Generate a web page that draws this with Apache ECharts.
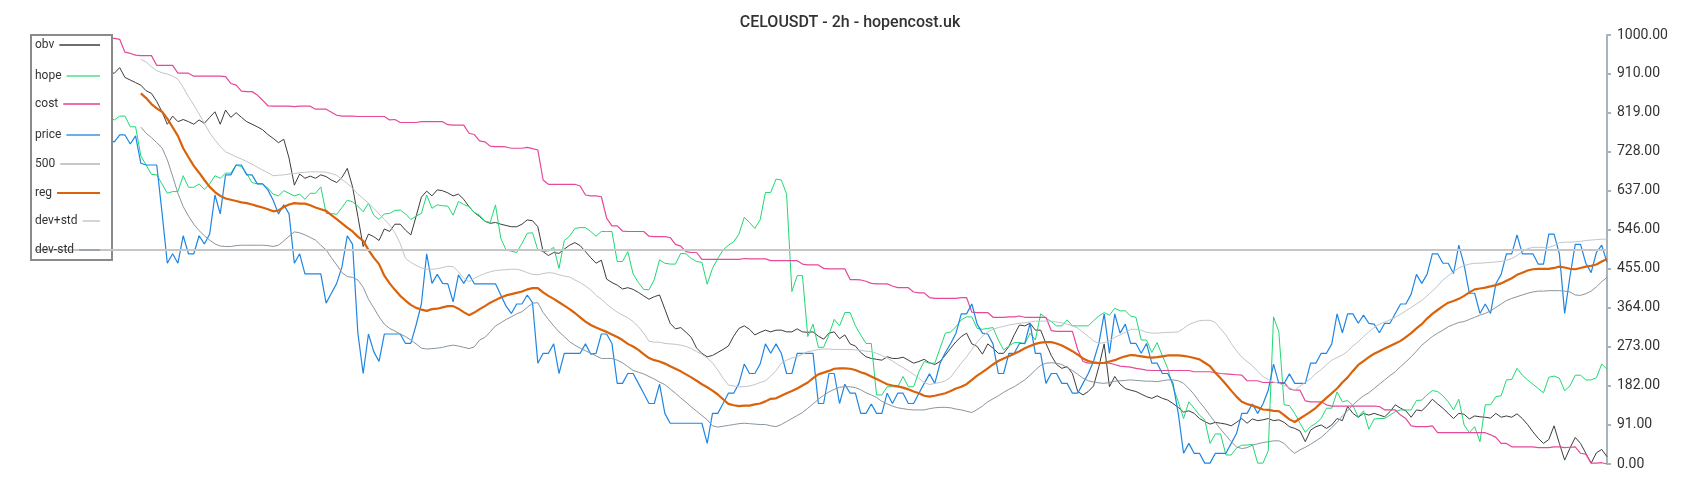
<!DOCTYPE html>
<html>
<head>
<meta charset="utf-8">
<script src="https://cdn.jsdelivr.net/npm/echarts@6/dist/echarts.min.js"></script>
<style>
html,body{margin:0;padding:0;background:#fff;}
#chart{width:1700px;height:500px;}
</style>
</head>
<body>
<div id="chart"></div>
<script>
const titleText = 'CELOUSDT - 2h - hopencost.uk';
const seriesNames = ['obv', 'hope', 'cost', 'price', '500', 'reg', 'dev+std', 'dev-std'];
const yTicks = { min: 0, max: 1000, interval: 91 };
const level500 = 500;

const price = [760,752,768,758,748,762,770,756,762,750,768,760,748,756,
755,751,767,767,746,765,701,697,697,697,586,468,490,468,532,490,
490,532,513,536,627,583,674,674,697,697,674,674,653,653,639,615,583,604,583,468,
490,443,443,443,443,375,398,421,460,532,512,305,211,303,262,239,303,303,303,303,
281,281,324,373,490,421,442,421,420,378,441,421,442,420,420,420,420,420,394,368,
351,373,373,394,376,235,258,258,280,211,258,258,258,258,280,256,258,303,303,281,
188,188,211,211,188,165,141,141,186,118,95,95,95,95,95,95,95,48,118,118,
141,165,165,188,233,211,211,233,280,258,280,258,211,211,258,258,258,258,141,141,
211,211,141,186,165,165,118,118,140,118,118,165,141,165,165,141,141,165,188,210,
188,235,260,281,305,350,350,373,326,305,303,280,211,211,258,258,281,281,328,258,
258,188,211,211,188,188,165,165,188,211,240,281,350,258,350,305,326,281,281,258,
281,235,235,211,211,188,118,25,48,25,25,2,2,25,25,25,48,71,118,118,
140,118,140,172,233,188,188,210,188,188,188,235,235,258,258,280,350,306,350,350,
328,347,328,326,306,328,328,351,373,373,396,442,421,442,490,490,468,468,444,510,
464,398,398,351,373,351,420,442,490,490,534,490,490,490,466,466,536,536,490,351,
437,512,512,468,446,493,510,470];

const obv = [885,895,905,898,915,908,922,904,915,925,910,920,914,912,
912,911,924,901,895,889,883,870,864,845,821,792,811,798,803,798,
792,802,794,808,821,792,825,808,819,808,798,792,786,779,768,759,749,757,713,650,
676,666,671,666,674,670,662,656,668,689,646,577,507,536,530,521,548,542,559,559,
545,534,577,622,636,625,639,637,632,625,629,617,600,586,577,566,561,563,559,556,
553,553,559,569,567,553,495,486,493,491,501,510,516,509,495,481,468,475,431,423,
417,408,411,407,400,392,384,390,394,361,328,315,318,307,295,270,258,250,253,260,
267,275,298,316,322,314,301,307,312,308,312,312,308,308,315,308,307,308,298,291,
305,308,292,301,280,275,260,250,246,244,242,250,246,246,249,242,235,239,244,236,
232,239,254,270,285,297,305,280,274,256,280,270,258,258,274,301,324,322,328,312,
312,281,253,232,223,227,211,169,161,169,182,227,280,180,204,186,176,172,169,163,
157,153,159,153,149,141,132,121,124,118,106,99,93,97,95,93,89,97,106,95,
105,101,103,106,101,103,97,87,83,77,52,79,87,91,83,91,106,101,134,118,
109,118,114,118,114,110,122,138,130,124,109,126,124,136,151,140,130,118,106,118,
116,105,112,110,109,107,118,109,112,109,117,106,92,75,60,48,57,89,48,9,
37,62,48,25,2,26,34,17];

const hope = [792,800,812,796,806,815,800,810,820,805,800,812,806,808,
808,802,811,811,786,786,718,697,675,674,653,631,635,635,672,645,
645,653,640,653,672,666,678,678,697,693,677,656,653,653,643,629,625,637,631,625,
629,617,631,631,646,584,584,582,598,615,611,601,588,608,580,570,583,584,591,592,
583,570,578,584,627,596,604,602,601,580,612,605,600,586,580,566,563,604,526,499,
496,493,514,538,539,499,495,497,505,456,521,531,549,551,551,542,531,542,542,542,
472,472,495,443,423,407,406,430,476,468,466,466,491,490,479,472,470,419,456,479,
499,510,518,536,575,563,549,569,633,633,664,662,629,402,439,439,297,326,272,272,
301,337,322,353,353,322,301,281,281,161,161,180,180,180,204,180,180,215,239,235,
235,270,305,308,320,336,343,343,316,314,316,318,289,266,275,283,283,280,305,289,
350,340,332,322,322,336,322,322,322,322,334,345,353,347,363,357,357,345,342,289,
289,260,283,252,223,180,145,106,145,130,114,103,48,70,70,21,21,37,44,44,
46,2,2,31,343,308,138,136,118,95,74,87,95,106,130,130,168,145,148,136,
110,124,81,105,106,106,114,122,126,126,126,148,149,161,171,169,159,145,126,151,
91,73,87,52,138,138,157,159,196,197,223,207,196,186,176,166,202,205,200,171,
182,207,207,196,196,201,233,221];

const cost = [1000,1000,1000,1000,1000,1000,998,998,996,996,994,994,993,992,
992,992,990,960,957,953,952,952,952,929,929,929,929,911,911,911,
904,904,904,904,904,904,903,887,883,869,868,868,860,848,835,834,834,834,834,833,
834,834,834,827,827,827,820,813,811,811,811,810,810,810,810,810,810,802,803,796,
796,796,796,798,798,798,798,798,791,790,790,790,771,768,753,751,741,740,740,739,
736,736,736,738,735,732,662,652,652,652,652,652,652,648,627,625,625,623,573,555,
555,543,542,542,542,542,531,530,530,530,528,512,508,495,493,493,477,477,477,477,
477,477,477,477,479,478,478,478,478,474,474,474,474,474,474,466,464,464,464,456,
455,455,455,455,430,430,429,426,421,420,420,420,415,411,411,411,401,399,399,388,
386,386,386,386,386,388,388,354,353,353,353,342,342,342,343,343,345,342,342,342,
342,342,311,309,309,309,309,267,239,235,235,235,235,235,232,228,227,226,223,221,
219,218,218,218,218,218,218,218,218,215,215,215,215,213,211,210,209,208,207,194,
194,194,190,190,190,190,190,175,172,172,147,145,145,145,138,135,135,135,135,135,
135,135,135,135,134,126,126,126,114,106,89,87,87,87,89,73,73,73,73,73,
73,73,73,73,73,68,62,48,48,40,40,40,40,40,38,38,38,40,40,38,
39,40,25,23,2,2,3,0];

const reg = [null,null,null,null,null,null,null,null,null,null,null,null,null,null,null,null,null,null,null,null,
864,853,839,829,821,805,785,765,736,715,
695,679,662,646,634,625,619,616,613,610,608,605,601,598,594,589,591,599,605,608,
607,607,603,598,594,590,580,571,561,551,542,530,520,499,481,466,439,421,406,392,
381,371,364,360,357,361,362,365,368,368,362,354,347,353,361,368,376,382,388,393,
396,399,402,407,410,410,400,392,385,377,369,361,352,342,332,324,318,313,308,302,
296,289,280,274,266,256,247,242,239,234,228,222,216,209,202,194,186,179,171,162,
151,140,137,135,136,136,139,141,146,152,153,159,165,170,176,183,190,200,209,213,
217,222,223,223,222,219,214,210,204,198,192,186,183,181,178,174,169,165,159,157,
159,162,165,170,176,180,186,196,206,214,223,232,240,246,251,257,263,270,275,280,
283,284,284,281,276,270,263,255,246,240,237,235,236,239,242,247,251,254,253,251,
249,248,249,251,253,253,253,252,250,247,244,236,228,213,200,186,171,157,145,140,
136,132,127,126,124,123,114,104,98,106,114,122,131,143,154,165,176,190,202,217,
231,240,249,257,263,269,275,281,287,296,305,316,326,339,350,359,368,376,380,385,
392,400,407,409,411,414,417,421,427,433,441,446,451,454,455,455,455,457,460,458,
455,454,457,460,462,465,472,478];

const devPlus = [null,null,null,null,null,null,null,null,null,null,null,null,null,null,null,null,null,null,null,null,
943,937,926,917,912,909,904,897,878,856,
837,816,794,772,755,740,728,722,716,711,705,699,692,685,679,672,673,674,676,677,
679,680,681,681,681,680,677,673,663,654,643,629,619,608,596,583,570,557,539,514,
479,470,463,457,454,454,455,458,461,460,448,433,425,433,439,444,448,451,452,453,
454,454,451,446,442,441,444,446,445,441,438,436,429,423,415,406,393,384,373,363,
354,347,341,332,320,305,286,284,284,281,280,279,277,274,269,262,256,247,236,219,
200,184,182,180,180,182,185,190,194,205,218,235,242,247,250,256,262,264,267,268,
268,267,267,267,267,266,265,263,262,258,253,247,240,232,225,217,209,200,190,185,
188,190,194,202,219,235,250,267,284,298,308,314,318,321,324,326,328,329,331,333,
333,333,333,331,329,326,322,317,307,297,287,281,283,287,295,301,307,314,314,312,
307,305,305,306,307,307,308,316,325,330,334,335,335,330,315,301,281,264,249,239,
229,216,204,197,191,188,183,178,172,182,190,199,211,220,231,242,248,254,263,275,
285,297,308,318,326,331,336,342,349,357,365,373,381,392,403,415,429,439,448,457,
462,466,468,468,469,470,471,472,475,479,486,495,502,505,505,505,505,509,516,517,
517,518,519,521,522,523,524,524];

const devMinus = [null,null,null,null,null,null,null,null,null,null,null,null,null,null,null,null,null,null,null,null,
785,771,761,749,737,709,671,631,600,578,
559,544,532,522,513,508,507,507,509,510,510,510,510,510,509,507,510,520,531,541,
539,534,528,522,510,499,481,464,446,437,435,429,412,384,364,343,326,316,310,303,
297,289,280,270,268,269,270,272,275,277,275,272,269,273,289,295,308,322,329,337,
343,350,355,365,375,376,353,337,322,308,297,285,277,270,264,258,252,246,246,246,
242,236,227,218,214,210,204,198,191,185,175,165,154,144,133,123,113,103,89,86,
88,90,92,94,95,94,93,92,92,89,87,92,99,106,113,120,130,140,151,160,
168,174,179,180,180,178,173,166,161,155,146,140,135,131,129,127,126,126,126,129,
131,132,132,131,128,126,123,120,127,135,145,152,159,167,174,180,188,196,207,219,
230,235,236,235,232,225,218,209,200,194,191,189,188,190,193,194,195,196,195,194,
193,193,192,194,196,196,194,188,176,162,145,130,113,97,81,67,52,40,36,38,
44,47,50,52,54,54,48,35,25,33,39,46,54,62,73,85,97,112,124,138,
149,159,166,176,186,196,206,215,227,238,250,263,277,287,297,305,312,320,325,330,
332,337,342,347,351,357,365,373,381,386,390,394,398,401,403,403,404,404,404,403,
401,394,393,397,403,413,425,435];

const categories = price.map((_, i) => String(i));

const colors = {
  obv: '#3c3c3c', hope: '#1fd873', cost: '#e6489a', price: '#1e86e3',
  l500: '#c6c6c6', reg: '#d9620a', devPlus: '#bfc5ca', devMinus: '#8a959e'
};

const chart = echarts.init(document.getElementById('chart'), null, { renderer: 'canvas' });

// measure legend text widths so every legend line ends at the same x, as in the original
const mctx = document.createElement('canvas').getContext('2d');
mctx.font = '12px Roboto';
const legendCenters = [45, 76, 104, 135, 164, 193, 221, 250];
const legendColors = ['#6e6e6e', '#7ee6a8', '#ec6eab', '#6caeea', '#c8c8c8', '#d9620a', '#d2d6da', '#9ba4ac'];
const legends = seriesNames.map((name, k) => {
  const w = mctx.measureText(name).width;
  return {
    data: [name],
    orient: 'horizontal',
    align: 'right',
    left: 35,
    top: legendCenters[k] - 7,
    padding: 0,
    itemGap: 0,
    itemWidth: Math.max(12, 60 - w),
    itemHeight: 2,
    icon: 'rect',
    itemStyle: { color: legendColors[k], borderWidth: 0 },
    textStyle: { fontFamily: 'Roboto', fontSize: 12, color: '#333', lineHeight: 14 },
    selectedMode: false,
    z: 6
  };
});

function lineSeries(name, data, color, width, extra) {
  return Object.assign({
    name: name, type: 'line', data: data, symbol: 'none', showSymbol: false,
    lineStyle: { color: color, width: width }, itemStyle: { color: color },
    silent: true, connectNulls: false
  }, extra || {});
}

chart.setOption({
  animation: false,
  backgroundColor: '#fff',
  title: {
    text: titleText, left: 'center', top: 10,
    textStyle: { fontFamily: 'Roboto', fontSize: 16, fontWeight: 500, color: '#333' }
  },
  legend: legends,
  graphic: {
    z: 5,
    elements: [{
      type: 'rect', left: 30, top: 34, z: 5,
      shape: { width: 81, height: 225 },
      style: { fill: '#fff', stroke: '#8a8a8a', lineWidth: 2 }
    }]
  },
  grid: { left: 35, right: 93, top: 35, bottom: 36 },
  xAxis: { type: 'category', data: categories, boundaryGap: false, show: false },
  yAxis: {
    type: 'value', position: 'right', min: yTicks.min, max: yTicks.max, interval: yTicks.interval,
    splitLine: { show: false },
    axisLine: { show: true, lineStyle: { color: '#aab3ba', width: 2 } },
    axisTick: { show: true, length: 4, lineStyle: { color: '#aab3ba', width: 2 } },
    axisLabel: {
      margin: 10, fontFamily: 'Roboto', fontSize: 14, color: '#333',
      formatter: v => v.toFixed(2)
    }
  },
  series: [
    lineSeries('obv', obv, colors.obv, 1),
    lineSeries('hope', hope, colors.hope, 1),
    lineSeries('cost', cost, colors.cost, 1.2),
    lineSeries('price', price, colors.price, 1.2),
    lineSeries('500', [], colors.l500, 2, {
      markLine: { silent: true, symbol: 'none', label: { show: false },
        lineStyle: { color: colors.l500, width: 2, type: 'solid' },
        data: [{ yAxis: level500 }] }
    }),
    lineSeries('reg', reg, colors.reg, 2.2),
    lineSeries('dev+std', devPlus, colors.devPlus, 1),
    lineSeries('dev-std', devMinus, colors.devMinus, 1)
  ]
});
</script>
</body>
</html>
